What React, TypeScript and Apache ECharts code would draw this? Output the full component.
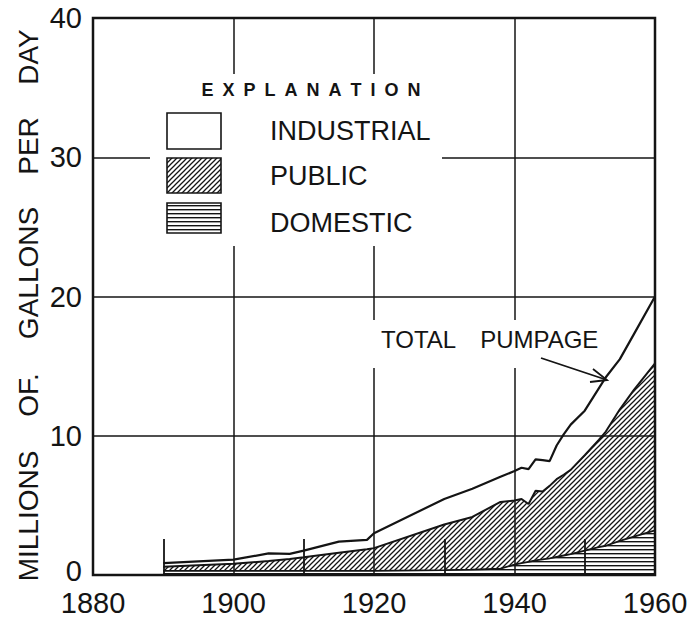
import React, { useEffect, useRef } from "react";
import * as echarts from "echarts";

const years = [1890, 1900, 1905, 1908, 1910, 1915, 1919, 1920, 1930, 1934, 1938, 1940, 1941, 1942, 1943, 1944, 1945, 1946, 1947, 1948, 1950, 1952, 1953, 1955, 1957, 1960];
// Pumpage by use, millions of gallons per day (stacked)
const domestic = [0.3, 0.3, 0.3, 0.3, 0.3, 0.3, 0.3, 0.3, 0.35, 0.38, 0.45, 0.75, 0.85, 0.95, 1.05, 1.12, 1.2, 1.3, 1.4, 1.5, 1.75, 2.0, 2.1, 2.45, 2.75, 3.2];
const publicSupply = [0.3, 0.5, 0.7, 0.85, 0.97, 1.3, 1.55, 1.63, 3.28, 3.79, 4.8, 4.6, 4.61, 4.15, 5.0, 4.88, 5.2, 5.58, 5.8, 6.05, 6.85, 7.7, 8.2, 9.45, 10.55, 12.0];
const industrial = [0.25, 0.3, 0.55, 0.37, 0.48, 0.8, 0.67, 1.07, 1.83, 2.03, 1.8, 2.12, 2.24, 2.5, 2.25, 2.25, 1.78, 2.42, 2.9, 3.25, 3.2, 3.7, 3.9, 3.6, 4.0, 4.8];

const legendItems = ["INDUSTRIAL", "PUBLIC", "DOMESTIC"];
const yTitleWords = ["MILLIONS", "OF.", "GALLONS", "PER", "DAY"];

const INK = "#141414";
const FONT = '"Liberation Sans", Arial, sans-serif';

function makePattern(kind: "diag" | "horiz") {
  const s = kind === "diag" ? 5 : 4;
  const c = document.createElement("canvas");
  c.width = s;
  c.height = s;
  const ctx = c.getContext("2d")!;
  ctx.clearRect(0, 0, s, s);
  if (kind === "diag") {
    ctx.strokeStyle = INK;
    ctx.lineWidth = 1.25;
    ctx.beginPath();
    for (const k of [-s, 0, s]) {
      ctx.moveTo(k - 1, s + 1);
      ctx.lineTo(k + s + 1, -1);
    }
    ctx.stroke();
  } else {
    ctx.fillStyle = INK;
    ctx.fillRect(0, 1, s, 1.4);
  }
  return { image: c, repeat: "repeat", imageWidth: s, imageHeight: s } as any;
}

export default function App() {
  const ref = useRef<HTMLDivElement>(null);
  useEffect(() => {
    document.body.style.margin = "0";
    const chart = echarts.init(ref.current!, null, { renderer: "svg" });
    const diag = makePattern("diag");
    const horiz = makePattern("horiz");
    // value first, year second, so that the stack is applied to the value dimension
    const mk = (arr: number[]) => years.map((y, i) => [arr[i], y]);

    const titleY: Record<string, number> = { MILLIONS: 516, "OF.": 395, GALLONS: 273, PER: 146, DAY: 57 };
    const legendFills = ["#fff", diag, horiz];
    const legendBoxY = [113, 158, 203];
    const legendBoxH = [36, 35, 30];
    const legendTextY = [131, 176, 223];

    const graphic: any[] = [
      { type: "rect", z: 100, shape: { x: 150, y: 74, width: 292, height: 172 }, style: { fill: "#fff" } },
      {
        type: "text", z: 101, x: 311, y: 90,
        style: { text: "E\u2002X\u2002P\u2002L\u2002A\u2002N\u2002A\u2002T\u2002I\u2002O\u2002N", font: `bold 18px ${FONT}`, fill: INK, textAlign: "center", textVerticalAlign: "middle" },
      },
      ...legendItems.flatMap((name, i) => [
        { type: "rect", z: 101, shape: { x: 167, y: legendBoxY[i], width: 54, height: legendBoxH[i] }, style: { fill: legendFills[i], stroke: INK, lineWidth: 1.6 } },
        { type: "text", z: 101, x: 270, y: legendTextY[i], style: { text: name, font: `27px ${FONT}`, fill: INK, textAlign: "left", textVerticalAlign: "middle" } },
      ]),
      { type: "rect", z: 100, shape: { x: 372, y: 320, width: 236, height: 48 }, style: { fill: "#fff" } },
      { type: "text", z: 101, x: 381, y: 339, style: { text: "TOTAL\u2002\u2002PUMPAGE", font: `24px ${FONT}`, fill: INK, textAlign: "left", textVerticalAlign: "middle" } },
      { type: "line", z: 101, shape: { x1: 541, y1: 358, x2: 607, y2: 380 }, style: { stroke: INK, lineWidth: 1.8 } },
      { type: "polyline", z: 101, shape: { points: [[593, 369], [607, 380], [590, 382]] }, style: { stroke: INK, lineWidth: 1.8, fill: "none" } },
      ...yTitleWords.map((w) => ({
        type: "text", z: 101, x: 28, y: titleY[w], rotation: Math.PI / 2,
        style: { text: w, font: `28px ${FONT}`, fill: INK, textAlign: "center", textVerticalAlign: "middle" },
      })),
    ];

    const seriesBase = { type: "line", stack: "total", symbol: "none", encode: { x: 1, y: 0 } };

    chart.setOption({
      animation: false,
      backgroundColor: "#fff",
      grid: { left: 93, right: 45, top: 18, bottom: 33, show: true, borderColor: INK, borderWidth: 2.5, backgroundColor: "transparent" },
      xAxis: {
        type: "value", min: 1880, max: 1960, interval: 20,
        axisLine: { show: false },
        axisTick: { show: false, inside: true },
        minorTick: { show: true, splitNumber: 2, length: 36, lineStyle: { color: INK, width: 1.8 } },
        splitLine: { show: true, lineStyle: { color: INK, width: 1.5 } },
        axisLabel: { fontSize: 29, color: INK, fontFamily: FONT, margin: 13, formatter: (v: number) => String(v) },
      },
      yAxis: {
        type: "value", min: 0, max: 40, interval: 10,
        axisLine: { show: false },
        axisTick: { show: false },
        splitLine: { show: true, lineStyle: { color: INK, width: 1.5 } },
        axisLabel: {
          fontSize: 29, color: INK, fontFamily: FONT, margin: 11,
          formatter: (v: number) => (v === 0 ? "{zero|0}" : String(v)),
          rich: { zero: { fontSize: 29, fontFamily: FONT, color: INK, padding: [0, 0, 8, 0] } },
        },
      },
      series: [
        { ...seriesBase, name: "DOMESTIC", data: mk(domestic), lineStyle: { color: INK, width: 1.8 }, areaStyle: { color: horiz, opacity: 1 } },
        { ...seriesBase, name: "PUBLIC", data: mk(publicSupply), lineStyle: { color: INK, width: 2 }, areaStyle: { color: diag, opacity: 1 } },
        { ...seriesBase, name: "INDUSTRIAL", data: mk(industrial), lineStyle: { color: INK, width: 2.2 } },
      ],
      graphic,
    });
    return () => chart.dispose();
  }, []);
  return <div ref={ref} style={{ width: 700, height: 617 }} />;
}
